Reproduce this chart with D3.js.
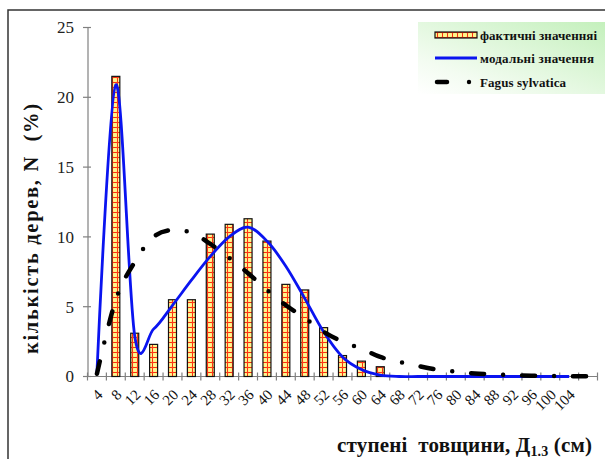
<!DOCTYPE html>
<html>
<head>
<meta charset="utf-8">
<script src="https://cdn.jsdelivr.net/npm/d3@7"></script>
<style>
  body { margin: 0; background: #fff; }
  svg { display: block; font-family: "Liberation Serif", "DejaVu Serif", serif; }
</style>
</head>
<body>
<svg id="chart" width="605" height="459"></svg>
<script>
// categories (diameter classes, cm) ; last class has no label
var classes = ['4','8','12','16','20','24','28','32','36','40','44','48','52','56','60','64',
               '68','72','76','80','84','88','92','96','100','104',''];
// фактичні значення (%)
var actual = [0, 21.5, 3.1, 2.3, 5.5, 5.5, 10.2, 10.9, 11.3, 9.7, 6.6, 6.2, 3.5, 1.5, 1.1, 0.7];
// модальні значення (%)
var modal = [0.3, 20.9, 2.9, 3.4, 5.1, 6.9, 8.6, 10.0, 10.7, 9.7, 7.9, 5.6, 3.2, 1.4, 0.5, 0.1,
             0, 0, 0, 0, 0, 0, 0, 0, 0, 0];
// Fagus sylvatica (%)
var fagus = [0.2, 5.5, 8.2, 10.0, 10.5, 10.3, 9.5, 8.5, 7.4, 6.2, 5.1, 4.2, 3.2, 2.5, 2.0, 1.4,
             1.05, 0.75, 0.5, 0.35, 0.22, 0.15, 0.1, 0.06, 0.04, 0.02, 0.01];
var yTicks = [0, 5, 10, 15, 20, 25];

var svg = d3.select('#chart');

// frame
svg.append('path').attr('d', 'M8,459 V10 H605')
   .attr('fill', 'none').attr('stroke', '#333').attr('stroke-width', 1.5);

var x = d3.scaleBand().domain(d3.range(classes.length)).range([87.5, 597.5]).padding(0);
var y = d3.scaleLinear().domain([0, 25]).range([376.5, 27.5]);
var cx = function(i){ return x(i) + x.bandwidth()/2; };

// bar pattern (yellow with red checks)
var defs = svg.append('defs');
var pat = defs.append('pattern').attr('id', 'plaid').attr('patternUnits', 'userSpaceOnUse')
   .attr('width', 5).attr('height', 5);
pat.append('rect').attr('width', 5).attr('height', 5).attr('fill', '#fff58c');
pat.append('rect').attr('x', 0).attr('y', 2).attr('width', 5).attr('height', 1).attr('fill', '#ff2a10');
pat.append('rect').attr('x', 2).attr('y', 0).attr('width', 1).attr('height', 5).attr('fill', '#ff2a10');
pat.append('rect').attr('x', 1.5).attr('y', 1.5).attr('width', 2).attr('height', 2).attr('fill', '#f55a20').attr('opacity', 0.5);

var grad = defs.append('linearGradient').attr('id', 'legbg')
   .attr('x1', 1).attr('y1', 0).attr('x2', 0).attr('y2', 1);
grad.append('stop').attr('offset', 0).attr('stop-color', '#c4f0bc');
grad.append('stop').attr('offset', 0.75).attr('stop-color', '#f3fcf1');
grad.append('stop').attr('offset', 1).attr('stop-color', '#ffffff');

// y axis
var yAxis = svg.append('g');
yAxis.append('line').attr('x1', 88).attr('x2', 88).attr('y1', y(25)).attr('y2', y(0))
   .attr('stroke', '#808080').attr('stroke-width', 1.2);
yTicks.forEach(function(t){
  yAxis.append('line').attr('x1', 83).attr('x2', 91).attr('y1', y(t)).attr('y2', y(t))
     .attr('stroke', '#808080').attr('stroke-width', 1.2);
  yAxis.append('text').attr('x', 74).attr('y', y(t)).attr('dy', '0.35em')
     .attr('text-anchor', 'end').attr('font-size', 17).attr('fill', '#222').text(t);
});

// x axis
var xAxis = svg.append('g');
xAxis.append('line').attr('x1', 87.5).attr('x2', 597.5).attr('y1', y(0)).attr('y2', y(0))
   .attr('stroke', '#808080').attr('stroke-width', 1.2);
d3.range(classes.length + 1).forEach(function(i){
  var xt = i < classes.length ? x(i) : x.range()[1];
  xAxis.append('line').attr('x1', xt).attr('x2', xt).attr('y1', y(0) - 4).attr('y2', y(0) + 4)
     .attr('stroke', '#808080').attr('stroke-width', 1.2);
});
classes.forEach(function(c, i){
  xAxis.append('text')
     .attr('transform', 'translate(' + (cx(i) + 3) + ',' + 392 + ') rotate(-45)')
     .attr('text-anchor', 'end').attr('dy', '0.35em')
     .attr('font-size', 15).attr('fill', '#111').text(c);
});

// bars
var bw = 8;
svg.append('g').selectAll('rect').data(actual).enter().append('rect')
   .attr('x', function(d, i){ return cx(i) - bw/2; })
   .attr('y', function(d){ return y(d); })
   .attr('width', bw)
   .attr('height', function(d){ return y(0) - y(d); })
   .attr('display', function(d){ return d > 0 ? null : 'none'; })
   .attr('fill', 'url(#plaid)').attr('stroke', '#111').attr('stroke-width', 1.2);

// modal curve
var line = d3.line().x(function(d, i){ return cx(i); }).y(function(d){ return y(d); })
   .curve(d3.curveCardinal.tension(0));
svg.append('path').datum(modal).attr('d', line)
   .attr('fill', 'none').attr('stroke', '#0a14f0').attr('stroke-width', 2.8);

// Fagus sylvatica curve
svg.append('path').datum(fagus).attr('d', line)
   .attr('fill', 'none').attr('stroke', '#000').attr('stroke-width', 4.5)
   .attr('stroke-linecap', 'round').attr('stroke-dasharray', '13,19,0,19');

// legend
var leg = svg.append('g');
leg.append('rect').attr('x', 418).attr('y', 22).attr('width', 187).attr('height', 72)
   .attr('fill', 'url(#legbg)');
leg.append('rect').attr('x', 435).attr('y', 32).attr('width', 42).attr('height', 6)
   .attr('fill', 'url(#plaid)').attr('stroke', '#111').attr('stroke-width', 1.2);
leg.append('line').attr('x1', 435).attr('x2', 477).attr('y1', 58).attr('y2', 58)
   .attr('stroke', '#0a14f0').attr('stroke-width', 2.8);
leg.append('line').attr('x1', 437).attr('x2', 447).attr('y1', 82).attr('y2', 82)
   .attr('stroke', '#000').attr('stroke-width', 4.5).attr('stroke-linecap', 'round');
leg.append('circle').attr('cx', 469).attr('cy', 82).attr('r', 2.2).attr('fill', '#000');
var legLabels = ['фактичні значенняі', 'модальні значення', 'Fagus sylvatica'];
var legWidths = [117, 114, 86];
legLabels.forEach(function(t, i){
  leg.append('text').attr('x', 480).attr('y', [35, 58, 82][i]).attr('dy', '0.35em')
     .attr('font-size', 13).attr('font-weight', 'bold').attr('fill', '#111')
     .attr('textLength', legWidths[i]).attr('lengthAdjust', 'spacing').text(t);
});

// axis titles
svg.append('text').attr('transform', 'translate(38,229) rotate(-90)')
   .attr('text-anchor', 'middle').attr('font-size', 20.5).attr('font-weight', 'bold')
   .attr('fill', '#111').attr('textLength', 250).attr('lengthAdjust', 'spacing')
   .text('кількість дерев, N\u00a0\u00a0(%)');
var xt = svg.append('text').attr('x', 337).attr('y', 452)
   .attr('font-size', 21).attr('font-weight', 'bold').attr('fill', '#111')
   .attr('textLength', 255).attr('lengthAdjust', 'spacing');
xt.append('tspan').text('ступені\u00a0 товщини, Д');
xt.append('tspan').attr('font-size', 14).attr('dy', 4).text('1.3');
xt.append('tspan').attr('dy', -4).text('\u00a0(см)');
</script>
</body>
</html>
